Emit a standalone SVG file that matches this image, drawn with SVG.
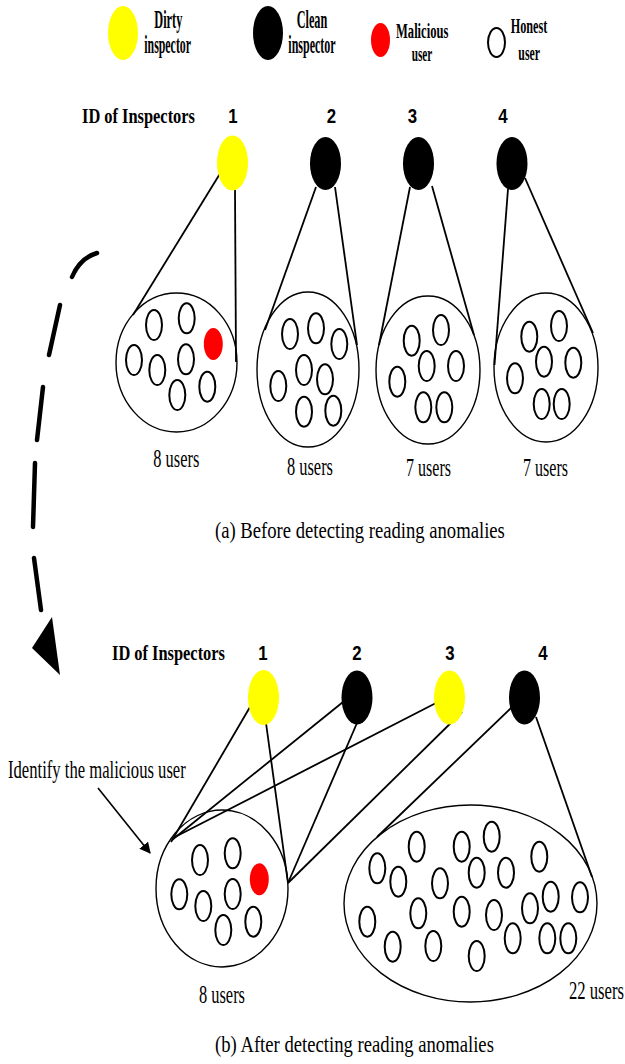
<svg xmlns="http://www.w3.org/2000/svg" width="625" height="1064" viewBox="0 0 625 1064">
<defs>
<style>
.dirty{fill:#ffff00}
.clean{fill:#000}
.mal{fill:#ff0000}
.hon{fill:#fff;stroke:#000;stroke-width:2}
.grp{fill:none;stroke:#000;stroke-width:1.4}
.edge{stroke:#000;stroke-width:1.8;fill:none}
.lbl{font-family:"Liberation Serif",serif;font-weight:bold;fill:#000}
.num{font-family:"Liberation Sans",sans-serif;font-weight:bold;fill:#000;font-size:21px;text-anchor:middle}
.txt{font-family:"Liberation Serif",serif;fill:#000}
</style>
<marker id="ah" viewBox="0 0 10 10" refX="9" refY="5" markerWidth="7" markerHeight="7" orient="auto" markerUnits="strokeWidth">
<path d="M0,0 L10,5 L0,10 z" fill="#000"/>
</marker>
</defs>
<rect width="625" height="1064" fill="#fff"/>

<g id="legend">
<g id="legend-dirty">
<ellipse class="dirty" cx="123" cy="33" rx="15" ry="27"/>
<text class="lbl" font-size="25" transform="translate(154.3,28.3) scale(0.492,1)">Dirty</text>
<text class="lbl" font-size="25" transform="translate(144.3,53.3) scale(0.474,1)">inspector</text>
</g>
<g id="legend-clean">
<ellipse class="clean" cx="268" cy="33" rx="15" ry="27"/>
<text class="lbl" font-size="25" transform="translate(296.7,28.3) scale(0.49,1)">Clean</text>
<text class="lbl" font-size="25" transform="translate(288.3,53.3) scale(0.48,1)">inspector</text>
</g>
<g id="legend-malicious">
<ellipse class="mal" cx="380.5" cy="40" rx="9.5" ry="17"/>
<text class="lbl" font-size="21" transform="translate(396,37.5) scale(0.598,1)">Malicious</text>
<text class="lbl" font-size="21" transform="translate(411.7,61) scale(0.535,1)">user</text>
</g>
<g id="legend-honest">
<ellipse class="hon" cx="496.5" cy="42.5" rx="8.5" ry="14.5"/>
<text class="lbl" font-size="22" transform="translate(510.7,33.3) scale(0.556,1)">Honest</text>
<text class="lbl" font-size="22" transform="translate(518.3,59.5) scale(0.538,1)">user</text>
</g>
</g>

<!-- Part (a) -->
<g id="a-header">
<text class="lbl" font-size="22" transform="translate(82,123) scale(0.746,1)">ID of Inspectors</text>
<text class="num" transform="translate(233,123) scale(0.8,1)">1</text>
<text class="num" transform="translate(331.3,123) scale(0.8,1)">2</text>
<text class="num" transform="translate(412.5,123) scale(0.8,1)">3</text>
<text class="num" transform="translate(503,123) scale(0.8,1)">4</text>
</g>

<g id="a-connectors">
<line class="edge" x1="221" y1="172" x2="133" y2="315"/>
<line class="edge" x1="235" y1="189" x2="236" y2="362"/>
<line class="edge" x1="316" y1="187" x2="265" y2="330"/>
<line class="edge" x1="335" y1="187" x2="357" y2="345"/>
<line class="edge" x1="410" y1="187" x2="379" y2="345"/>
<line class="edge" x1="432" y1="186" x2="474" y2="335"/>
<line class="edge" x1="508" y1="189" x2="494.5" y2="365"/>
<line class="edge" x1="525" y1="178" x2="593" y2="333"/>
</g>

<g id="a-insp1"><ellipse class="dirty" cx="232.5" cy="163" rx="15.5" ry="27.5"/></g>
<g id="a-insp2"><ellipse class="clean" cx="325.5" cy="163.5" rx="15.5" ry="26.5"/></g>
<g id="a-insp3"><ellipse class="clean" cx="418.5" cy="163.5" rx="15.5" ry="26.5"/></g>
<g id="a-insp4"><ellipse class="clean" cx="512" cy="163.5" rx="15.5" ry="26.5"/></g>

<g id="a-group1">
<ellipse class="grp" cx="176.5" cy="362.5" rx="60.5" ry="69.5"/>
<ellipse class="hon" cx="154" cy="325" rx="8" ry="15"/>
<ellipse class="hon" cx="186.7" cy="318.3" rx="8" ry="15"/>
<ellipse class="mal" cx="213.3" cy="344" rx="9.5" ry="16"/>
<ellipse class="hon" cx="134" cy="360" rx="8" ry="15"/>
<ellipse class="hon" cx="157.3" cy="370" rx="8" ry="15"/>
<ellipse class="hon" cx="186" cy="359.3" rx="8" ry="15"/>
<ellipse class="hon" cx="177.3" cy="395" rx="8" ry="15"/>
<ellipse class="hon" cx="207.3" cy="386.7" rx="8" ry="15"/>
<text class="txt" font-size="25" transform="translate(153.3,467) scale(0.656,1)">8 users</text>
</g>

<g id="a-group2">
<ellipse class="grp" cx="308" cy="369.5" rx="51" ry="77.5"/>
<ellipse class="hon" cx="290" cy="334" rx="8" ry="15"/>
<ellipse class="hon" cx="316" cy="328.3" rx="8" ry="15"/>
<ellipse class="hon" cx="339.3" cy="344" rx="8" ry="15"/>
<ellipse class="hon" cx="304" cy="370" rx="8" ry="15"/>
<ellipse class="hon" cx="278.3" cy="386" rx="8" ry="15"/>
<ellipse class="hon" cx="325" cy="379.3" rx="8" ry="15"/>
<ellipse class="hon" cx="304" cy="411.7" rx="8" ry="15"/>
<ellipse class="hon" cx="333.3" cy="410.7" rx="8" ry="15"/>
<text class="txt" font-size="25" transform="translate(287,475) scale(0.656,1)">8 users</text>
</g>

<g id="a-group3">
<ellipse class="grp" cx="428" cy="370" rx="52" ry="74"/>
<ellipse class="hon" cx="411.7" cy="340.7" rx="8" ry="15"/>
<ellipse class="hon" cx="441" cy="330" rx="8" ry="15"/>
<ellipse class="hon" cx="426.7" cy="366" rx="8" ry="15"/>
<ellipse class="hon" cx="456" cy="366" rx="8" ry="15"/>
<ellipse class="hon" cx="397.3" cy="381.7" rx="8" ry="15"/>
<ellipse class="hon" cx="423.3" cy="407.3" rx="8" ry="15"/>
<ellipse class="hon" cx="444.3" cy="407.3" rx="8" ry="15"/>
<text class="txt" font-size="25" transform="translate(406,476) scale(0.642,1)">7 users</text>
</g>

<g id="a-group4">
<ellipse class="grp" cx="546" cy="367.5" rx="52" ry="74.5"/>
<ellipse class="hon" cx="529.3" cy="336.7" rx="8" ry="15"/>
<ellipse class="hon" cx="559" cy="326" rx="8" ry="15"/>
<ellipse class="hon" cx="544" cy="361.7" rx="8" ry="15"/>
<ellipse class="hon" cx="573.3" cy="362.7" rx="8" ry="15"/>
<ellipse class="hon" cx="515" cy="378.3" rx="8" ry="15"/>
<ellipse class="hon" cx="541.7" cy="404" rx="8" ry="15"/>
<ellipse class="hon" cx="561.7" cy="404" rx="8" ry="15"/>
<text class="txt" font-size="25" transform="translate(523,476) scale(0.642,1)">7 users</text>
</g>

<text id="caption-a" class="txt" font-size="24" transform="translate(215,538) scale(0.777,1)">(a) Before detecting reading anomalies</text>

<g id="transition-arrow">
<path d="M97,253 Q80,258 72,277 M60,305 L49,355 M43,387 L37,440 M35,463 L33,527 M34,558 L41,610" fill="none" stroke="#000" stroke-width="4.5" stroke-linecap="round"/>
<polygon points="52,617 32,648 60,675" fill="#000"/>
</g>

<!-- Part (b) -->
<g id="b-header">
<text class="lbl" font-size="22" transform="translate(112,660) scale(0.746,1)">ID of Inspectors</text>
<text class="num" transform="translate(263,659.5) scale(0.8,1)">1</text>
<text class="num" transform="translate(357,659.5) scale(0.8,1)">2</text>
<text class="num" transform="translate(450,659.5) scale(0.8,1)">3</text>
<text class="num" transform="translate(543,659.5) scale(0.8,1)">4</text>
</g>

<g id="b-connectors">
<line class="edge" x1="250" y1="707" x2="171" y2="842"/>
<line class="edge" x1="266" y1="723" x2="288" y2="883"/>
<line class="edge" x1="343" y1="702" x2="172" y2="840"/>
<line class="edge" x1="357" y1="723" x2="288" y2="883"/>
<line class="edge" x1="436" y1="703" x2="173" y2="838"/>
<line class="edge" x1="462" y1="712" x2="288" y2="883"/>
<line class="edge" x1="511" y1="708" x2="377" y2="837"/>
<line class="edge" x1="536" y1="717" x2="592" y2="877"/>
</g>

<g id="b-insp1"><ellipse class="dirty" cx="263.5" cy="697.5" rx="15.5" ry="27.5"/></g>
<g id="b-insp2"><ellipse class="clean" cx="357" cy="697.5" rx="15.5" ry="27"/></g>
<g id="b-insp3"><ellipse class="dirty" cx="449.5" cy="697.5" rx="15.5" ry="27"/></g>
<g id="b-insp4"><ellipse class="clean" cx="524.5" cy="697.5" rx="15.5" ry="27"/></g>

<g id="b-annotation">
<text class="txt" font-size="26" transform="translate(8,778) scale(0.64,1)">Identify the malicious user</text>
<line x1="98" y1="788" x2="150" y2="853" stroke="#000" stroke-width="1.6" marker-end="url(#ah)"/>
</g>

<g id="b-group1">
<ellipse class="grp" cx="222" cy="888.5" rx="66" ry="78.5"/>
<ellipse class="hon" cx="200" cy="860" rx="8" ry="15"/>
<ellipse class="hon" cx="232.7" cy="853.3" rx="8" ry="15"/>
<ellipse class="mal" cx="259.3" cy="879.3" rx="9.5" ry="16"/>
<ellipse class="hon" cx="179.3" cy="894.3" rx="8" ry="15"/>
<ellipse class="hon" cx="203.3" cy="906" rx="8" ry="15"/>
<ellipse class="hon" cx="232.7" cy="894" rx="8" ry="15"/>
<ellipse class="hon" cx="223.3" cy="930" rx="8" ry="15"/>
<ellipse class="hon" cx="253.3" cy="921.7" rx="8" ry="15"/>
<text class="txt" font-size="25" transform="translate(199,1003) scale(0.656,1)">8 users</text>
</g>

<g id="b-group2">
<ellipse class="grp" cx="470.5" cy="903.5" rx="126.5" ry="98.5"/>
<ellipse class="hon" cx="416.7" cy="846.7" rx="8" ry="15"/>
<ellipse class="hon" cx="461.7" cy="846.7" rx="8" ry="15"/>
<ellipse class="hon" cx="491.7" cy="836.7" rx="8" ry="15"/>
<ellipse class="hon" cx="539.3" cy="856.7" rx="8" ry="15"/>
<ellipse class="hon" cx="377.3" cy="868.3" rx="8" ry="15"/>
<ellipse class="hon" cx="398.3" cy="881.7" rx="8" ry="15"/>
<ellipse class="hon" cx="440" cy="883.3" rx="8" ry="15"/>
<ellipse class="hon" cx="476.7" cy="872.7" rx="8" ry="15"/>
<ellipse class="hon" cx="506" cy="872.7" rx="8" ry="15"/>
<ellipse class="hon" cx="550.7" cy="896.7" rx="8" ry="15"/>
<ellipse class="hon" cx="580" cy="897.3" rx="8" ry="15"/>
<ellipse class="hon" cx="367.3" cy="921.7" rx="8" ry="15"/>
<ellipse class="hon" cx="418.3" cy="913.3" rx="8" ry="15"/>
<ellipse class="hon" cx="461.7" cy="911.7" rx="8" ry="15"/>
<ellipse class="hon" cx="494" cy="915" rx="8" ry="15"/>
<ellipse class="hon" cx="530" cy="908.3" rx="8" ry="15"/>
<ellipse class="hon" cx="392.7" cy="946.7" rx="8" ry="15"/>
<ellipse class="hon" cx="433.3" cy="946" rx="8" ry="15"/>
<ellipse class="hon" cx="476.7" cy="956" rx="8" ry="15"/>
<ellipse class="hon" cx="512.7" cy="938.3" rx="8" ry="15"/>
<ellipse class="hon" cx="547.3" cy="938.3" rx="8" ry="15"/>
<ellipse class="hon" cx="568.3" cy="938.3" rx="8" ry="15"/>
<text class="txt" font-size="25" transform="translate(569,999) scale(0.666,1)">22 users</text>
</g>

<text id="caption-b" class="txt" font-size="24" transform="translate(215,1052) scale(0.778,1)">(b) After detecting reading anomalies</text>
</svg>
